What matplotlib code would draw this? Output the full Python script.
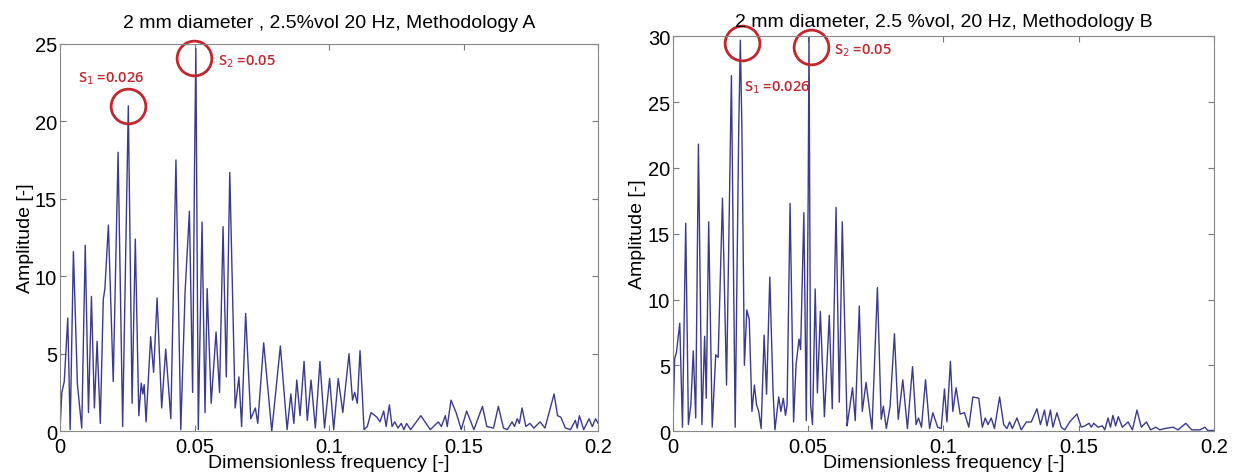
import matplotlib.pyplot as plt

# spectrum A (methodology A): peaks and troughs
freq_a = [0.0000, 0.0007, 0.0016, 0.0029, 0.0038, 0.0050, 0.0065, 0.0072, 0.0081, 0.0094,
          0.0106, 0.0117, 0.0128, 0.0138, 0.0150, 0.0161, 0.0167, 0.0180, 0.0198, 0.0216,
          0.0233, 0.0254, 0.0268, 0.0280, 0.0293, 0.0302, 0.0308, 0.0313, 0.0320, 0.0337,
          0.0348, 0.0361, 0.0378, 0.0393, 0.0412, 0.0431, 0.0449, 0.0465, 0.0481, 0.0493,
          0.0500, 0.0505, 0.0514, 0.0528, 0.0539, 0.0547, 0.0562, 0.0580, 0.0593, 0.0606,
          0.0618, 0.0631, 0.0651, 0.0665, 0.0675, 0.0690, 0.0709, 0.0726, 0.0735, 0.0757,
          0.0787, 0.0819, 0.0844, 0.0858, 0.0869, 0.0880, 0.0892, 0.0907, 0.0919, 0.0933,
          0.0949, 0.0966, 0.0983, 0.1002, 0.1017, 0.1034, 0.1051, 0.1074, 0.1087, 0.1095,
          0.1105, 0.1115, 0.1130, 0.1142, 0.1156, 0.1178, 0.1189, 0.1203, 0.1212, 0.1224,
          0.1234, 0.1244, 0.1256, 0.1268, 0.1278, 0.1288, 0.1303, 0.1341, 0.1376, 0.1406,
          0.1417, 0.1432, 0.1439, 0.1453, 0.1472, 0.1491, 0.1511, 0.1538, 0.1570, 0.1586,
          0.1611, 0.1629, 0.1648, 0.1662, 0.1680, 0.1689, 0.1699, 0.1707, 0.1717, 0.1731,
          0.1746, 0.1761, 0.1784, 0.1802, 0.1836, 0.1849, 0.1861, 0.1878, 0.1897, 0.1915,
          0.1922, 0.1930, 0.1946, 0.1966, 0.1978, 0.1990, 0.2000]
amp_a = [0.0, 2.5, 3.2, 7.3, 0.1, 11.6, 3.0, 1.8, 0.2, 12.0,
         1.2, 8.7, 1.5, 5.8, 0.5, 8.5, 9.2, 13.3, 3.2, 18.0,
         0.3, 21.0, 1.8, 12.4, 1.0, 3.1, 2.4, 3.0, 0.6, 6.1,
         3.8, 8.6, 1.5, 5.3, 0.8, 17.5, 0.1, 9.0, 14.2, 2.5,
         17.0, 24.7, 0.1, 13.5, 1.2, 9.2, 1.8, 6.4, 2.5, 13.2,
         3.5, 16.7, 1.5, 3.5, 0.3, 7.6, 0.8, 1.5, 0.5, 5.7,
         0.0, 5.5, 0.1, 2.4, 0.5, 3.3, 1.0, 4.5, 0.7, 3.3,
         0.2, 4.5, 0.2, 3.4, 0.1, 3.4, 1.2, 5.0, 2.0, 2.5,
         1.8, 5.2, 0.1, 0.3, 1.2, 0.9, 0.6, 1.3, 0.3, 1.7,
         0.3, 0.6, 0.2, 0.5, 0.1, 0.5, 0.1, 1.0, 0.1, 0.6,
         0.3, 1.0, 0.3, 2.0, 1.2, 0.1, 1.3, 0.1, 1.6, 0.3,
         0.2, 1.6, 0.2, 0.1, 0.6, 0.3, 0.8, 0.5, 1.5, 0.3,
         0.5, 0.2, 0.6, 0.2, 2.4, 1.0, 0.9, 0.2, 0.1, 0.7,
         0.2, 1.0, 0.1, 0.8, 0.3, 0.8, 0.5]

# spectrum B (methodology B)
freq_b = [0.0000, 0.0006, 0.0013, 0.0025, 0.0035, 0.0047, 0.0057, 0.0066, 0.0075, 0.0084,
          0.0094, 0.0107, 0.0117, 0.0123, 0.0132, 0.0145, 0.0158, 0.0167, 0.0183, 0.0198,
          0.0216, 0.0230, 0.0243, 0.0249, 0.0255, 0.0264, 0.0273, 0.0282, 0.0292, 0.0301,
          0.0309, 0.0317, 0.0326, 0.0337, 0.0346, 0.0358, 0.0370, 0.0377, 0.0391, 0.0399,
          0.0408, 0.0416, 0.0422, 0.0433, 0.0446, 0.0455, 0.0466, 0.0472, 0.0484, 0.0493,
          0.0500, 0.0503, 0.0509, 0.0516, 0.0526, 0.0534, 0.0545, 0.0560, 0.0578, 0.0589,
          0.0603, 0.0615, 0.0626, 0.0644, 0.0648, 0.0664, 0.0674, 0.0689, 0.0700, 0.0714,
          0.0736, 0.0756, 0.0770, 0.0778, 0.0789, 0.0803, 0.0819, 0.0833, 0.0850, 0.0867,
          0.0886, 0.0899, 0.0908, 0.0919, 0.0934, 0.0949, 0.0961, 0.0979, 0.0992, 0.1004,
          0.1013, 0.1026, 0.1035, 0.1047, 0.1062, 0.1078, 0.1094, 0.1109, 0.1131, 0.1144,
          0.1155, 0.1165, 0.1177, 0.1189, 0.1208, 0.1223, 0.1235, 0.1245, 0.1255, 0.1272,
          0.1288, 0.1307, 0.1325, 0.1346, 0.1359, 0.1374, 0.1383, 0.1396, 0.1405, 0.1420,
          0.1436, 0.1449, 0.1467, 0.1494, 0.1510, 0.1523, 0.1539, 0.1547, 0.1556, 0.1572,
          0.1588, 0.1597, 0.1609, 0.1618, 0.1627, 0.1637, 0.1647, 0.1662, 0.1683, 0.1699,
          0.1716, 0.1732, 0.1751, 0.1766, 0.1786, 0.1800, 0.1819, 0.1850, 0.1868, 0.1897,
          0.1918, 0.1949, 0.1967, 0.1978, 0.2000]
amp_b = [0.5, 5.5, 6.0, 8.2, 0.3, 15.8, 0.5, 2.0, 6.1, 1.0,
         21.8, 0.5, 7.2, 2.5, 15.9, 0.3, 5.8, 5.6, 17.7, 3.5,
         27.0, 0.3, 22.8, 29.7, 22.8, 5.0, 9.2, 8.5, 1.5, 3.5,
         2.0, 1.5, 0.2, 7.3, 2.8, 11.7, 3.0, 0.1, 2.6, 1.5,
         2.5, 1.2, 2.0, 17.3, 0.7, 5.0, 7.0, 6.2, 16.6, 0.8,
         18.0, 30.0, 2.0, 0.5, 10.8, 2.9, 9.1, 1.1, 8.8, 1.7,
         17.0, 2.2, 15.9, 0.4, 1.0, 3.3, 0.8, 9.5, 1.5, 3.7,
         0.15, 10.9, 0.9, 1.9, 0.2, 1.9, 7.4, 0.9, 3.9, 0.2,
         4.9, 0.5, 1.0, 0.3, 3.9, 0.2, 1.4, 0.3, 0.2, 3.2,
         0.7, 5.3, 1.5, 3.3, 1.3, 1.4, 0.3, 2.6, 2.5, 0.3,
         1.0, 0.5, 1.0, 0.2, 2.6, 0.5, 0.2, 0.7, 0.2, 1.0,
         0.1, 0.7, 0.7, 1.7, 0.5, 1.6, 0.4, 1.6, 0.3, 1.4,
         0.3, 0.1, 0.7, 1.3, 0.3, 0.4, 0.6, 0.3, 0.6, 0.3,
         0.4, 0.1, 1.0, 0.3, 1.2, 0.4, 1.1, 0.3, 0.7, 0.1,
         1.6, 0.3, 0.7, 0.1, 0.3, 0.1, 0.2, 0.3, 0.1, 0.6,
         0.1, 0.1, 0.3, 0.05, 0.05]

titles = ["2 mm diameter , 2.5%vol 20 Hz, Methodology A",
          "2 mm diameter, 2.5 %vol, 20 Hz, Methodology B"]
x_ticks = [0, 0.05, 0.1, 0.15, 0.2]
x_tick_labels = ["0", "0.05", "0.1", "0.15", "0.2"]
y_max = [25, 30]

# circled peaks (freq, amplitude) and label positions
circles_a = [(0.0254, 21.0), (0.0499, 24.1)]
circles_b = [(0.0257, 29.5), (0.0512, 29.2)]
labels_a = [(0.0068, 22.8, "S$_1$ =0.026"), (0.0588, 23.9, "S$_2$ =0.05")]
labels_b = [(0.0264, 26.2, "S$_1$ =0.026"), (0.0597, 29.0, "S$_2$ =0.05")]

plt.rcParams["font.family"] = ["Liberation Sans", "DejaVu Sans"]

fig = plt.figure(figsize=(12.36, 4.77), dpi=100)
ax1 = fig.add_axes([0.0485, 0.094, 0.4355, 0.812])
ax2 = fig.add_axes([0.5445, 0.094, 0.4375, 0.828])

line_color = "#3a3a8e"
red = "#c1272d"
title_pad = [12, 7]

panels = [(ax1, freq_a, amp_a, circles_a, labels_a),
          (ax2, freq_b, amp_b, circles_b, labels_b)]

for i, (ax, f, a, circ, labs) in enumerate(panels):
    ax.plot(f, a, color=line_color, lw=1.0)
    ax.set_xlim(0, 0.2)
    ax.set_ylim(0, y_max[i])
    ax.set_xticks(x_ticks)
    ax.set_xticklabels(x_tick_labels)
    ax.set_yticks(range(0, y_max[i] + 1, 5))
    ax.tick_params(direction="in", top=True, right=True, labelsize=14.5,
                   length=4, color="#777777")
    ax.tick_params(axis="x", pad=4)
    ax.tick_params(axis="y", pad=2)
    for s in ax.spines.values():
        s.set_color("#888888")
    ax.set_title(titles[i], fontsize=14, pad=title_pad[i])
    ax.set_xlabel("Dimensionless frequency [-]", fontsize=14, labelpad=-1)
    ax.set_ylabel("Amplitude [-]", fontsize=14, labelpad=1)

    for cx, cy in circ:
        ax.plot(cx, cy, marker="o", ms=25, mfc="none", mec=red, mew=2, clip_on=False)
    for tx, ty, t in labs:
        ax.text(tx, ty, t, color=red, fontsize=10.5, fontweight="semibold",
                family=["Open Sans", "DejaVu Sans"], va="center")

fig.savefig("out.png", dpi=100)
